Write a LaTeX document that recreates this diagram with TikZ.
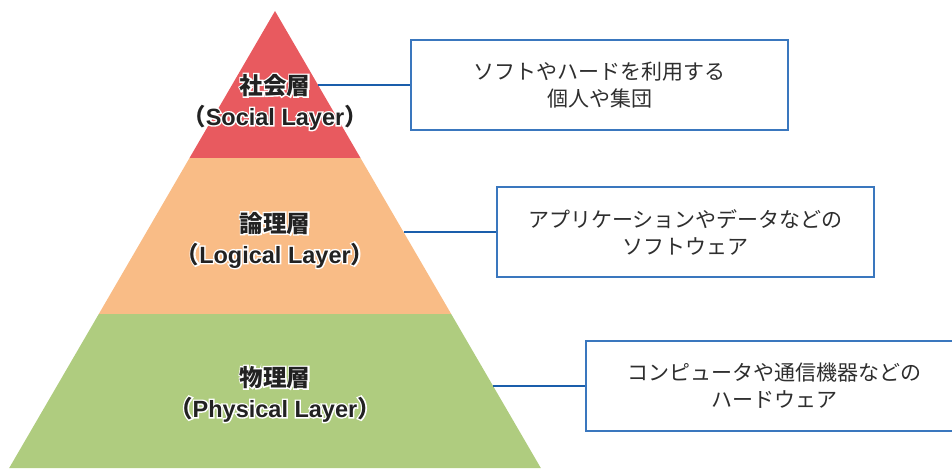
\documentclass[tikz,border=0pt]{standalone}
\usepackage{fontspec}
\newfontfamily\jp{Noto Sans CJK JP}
\newfontfamily\lbllatin{Liberation Sans}
\newfontfamily\jphalo{Noto Sans CJK JP}[BoldFeatures={FakeBold=12}]
\newfontfamily\lathalo{Liberation Sans}[BoldFeatures={FakeBold=12}]
\definecolor{socialred}{HTML}{E85A5F}
\definecolor{logicorange}{HTML}{F9BC86}
\definecolor{physgreen}{HTML}{AFCC7F}
\definecolor{boxblue}{HTML}{3A77BE}
\definecolor{lineblue}{HTML}{1A5EAB}
\definecolor{txtgray}{HTML}{2E2E2E}
\definecolor{lbldark}{HTML}{222222}
% white halo: an emboldened white copy exactly under the normal text
\newcommand{\cjkline}[1]{\leavevmode\rlap{\color{white}\jphalo\bfseries #1}#1}
\newcommand{\latline}[1]{\leavevmode\rlap{\color{white}\jphalo\bfseries（{\lathalo\bfseries #1}）}（{\lbllatin\bfseries #1}）}
\begin{document}
\begin{tikzpicture}[x=1pt,y=-1pt,
  layerlabel/.style={font=\jp\bfseries\fontsize{23.5}{31}\selectfont, text=lbldark, align=center, inner sep=0pt},
  descbox/.style={draw=boxblue, line width=1.2pt, fill=white, minimum width=377pt, minimum height=90pt, align=center, inner sep=0pt, text=txtgray, font=\jp\fontsize{21}{27}\selectfont},
  connector/.style={draw=lineblue, line width=1.2pt}]
\clip (0,0) rectangle (952,468);
\useasboundingbox (0,0) rectangle (952,468);
% pyramid layers
\fill[socialred] (275,11) -- (360.5,158) -- (189.5,158) -- cycle;
\fill[logicorange] (189.5,158) -- (360.5,158) -- (451.2,314) -- (98.8,314) -- cycle;
\fill[physgreen] (98.8,314) -- (451.2,314) -- (540.8,468) -- (9.2,468) -- cycle;
% connector start points on the pyramid edge
\coordinate (s1) at (318,85);
\coordinate (s2) at (403.5,232);
\coordinate (s3) at (493,386);
% description boxes
\node[descbox] (b1) at (599.5,85) {ソフトやハードを利用する\\個人や集団};
\node[descbox] (b2) at (685.5,232) {アプリケーションやデータなどの\\ソフトウェア};
\node[descbox] (b3) at (774.5,386) {コンピュータや通信機器などの\\ハードウェア};
% connectors
\draw[connector] (s1) -- (b1.west);
\draw[connector] (s2) -- (b2.west);
\draw[connector] (s3) -- (b3.west);
% labels
\node[layerlabel] (l1) at (275,102) {\cjkline{社会層}\\\latline{Social Layer}};
\node[layerlabel] (l2) at (275,240) {\cjkline{論理層}\\\latline{Logical Layer}};
\node[layerlabel] (l3) at (275,394) {\cjkline{物理層}\\\latline{Physical Layer}};
\end{tikzpicture}
\end{document}
